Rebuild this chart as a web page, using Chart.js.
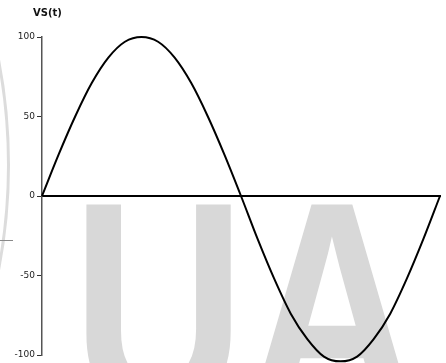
<!DOCTYPE html>
<html>
<head>
<meta charset="utf-8">
<script src="https://cdn.jsdelivr.net/npm/chart.js@4"></script>
<style>
    html, body { margin: 0; padding: 0; background: #fff; }
    #wrap { position: relative; width: 446px; height: 363px; overflow: hidden; }
    #mark {
        position: absolute; left: 72px; top: 157px;
        font-family: "Liberation Sans", Arial, sans-serif; font-weight: bold;
        font-size: 300px; line-height: 1; letter-spacing: 0;
        color: #d8d8d8; white-space: nowrap;
        transform-origin: 0 0; transform: scaleX(0.8);
    }
    #ring {
        position: absolute; left: -1102px; top: -391px; width: 1106px; height: 1106px;
        border: 3px solid #dcdcdc; border-radius: 50%;
    }
    #tick { position: absolute; left: 0; top: 240px; width: 13px; height: 1px; background: #888; }
    canvas { position: absolute; left: 0; top: 0; }
</style>
</head>
<body>
<div id="wrap">
    <div id="ring"></div>
    <div id="tick"></div>
    <div id="mark">UA</div>
    <canvas id="vs" width="446" height="363"></canvas>
</div>
<script>
    // Data: one period of Vs(t)
    const tValues = [0, 15, 30, 45, 60, 75, 90, 105, 120, 135, 150, 165, 180,
        195, 210, 225, 240, 255, 270, 285, 300, 315, 330, 345, 360];
    const vsValues = [0, 26, 50, 71, 87, 97, 100, 97, 87, 71, 50, 26, 0,
        -27, -52, -74, -90, -101, -104, -101, -90, -74, -52, -27, 0];
    const yTicks = [100, 50, 0, -50, -100];

    // title drawn at the top-left of the axis
    const titlePlugin = {
        id: 'vsTitle',
        afterDraw(chart) {
            const ctx = chart.ctx;
            ctx.save();
            ctx.font = 'bold 10px "DejaVu Sans", sans-serif';
            ctx.fillStyle = '#111';
            ctx.textBaseline = 'top';
            ctx.fillText('VS(t)', 33, 8);
            ctx.restore();
        }
    };

    new Chart(document.getElementById('vs').getContext('2d'), {
        type: 'line',
        data: {
            datasets: [{
                data: tValues.map((t, i) => ({ x: t, y: vsValues[i] })),
                borderColor: '#000',
                borderWidth: 2,
                pointRadius: 0,
                cubicInterpolationMode: 'monotone',
                fill: false,
                clip: false
            }]
        },
        options: {
            responsive: false,
            animation: false,
            layout: { padding: { top: 37, bottom: 8, right: 6, left: 0 } },
            plugins: { legend: { display: false }, tooltip: { enabled: false } },
            scales: {
                x: {
                    type: 'linear', min: 0, max: 360,
                    position: { y: 0 },
                    grid: { display: false },
                    ticks: { display: false },
                    border: { display: true, color: '#000', width: 2 }
                },
                y: {
                    min: -100, max: 100,
                    afterBuildTicks: s => { s.ticks = yTicks.map(v => ({ value: v })); },
                    afterFit: s => { s.width = 42; },
                    grid: { display: true, drawOnChartArea: false, drawTicks: true, tickLength: 5, color: '#333' },
                    ticks: {
                        color: '#222', padding: 2,
                        font: { size: 9, family: '"DejaVu Sans", sans-serif' }
                    },
                    border: { display: true, color: '#555', width: 1.5, dash: [5, 4] }
                }
            }
        },
        plugins: [titlePlugin]
    });
</script>
</body>
</html>
